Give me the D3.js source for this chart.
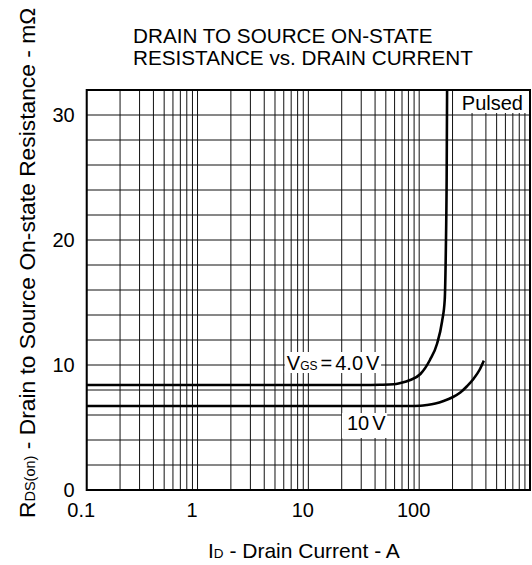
<!DOCTYPE html>
<html>
<head>
<meta charset="utf-8">
<script src="https://cdn.jsdelivr.net/npm/d3@7"></script>
<style>
  html, body { margin: 0; padding: 0; background: #fff; }
  svg { display: block; font-family: "Liberation Sans", Arial, sans-serif; }
</style>
</head>
<body>
<svg id="chart" width="532" height="565"></svg>
<script>
// Drain current (A) and on-resistance (mΩ) for each gate voltage
const currentVgs4 = [0.1, 10, 30, 44.6, 59, 67.6, 83, 102.6, 125, 145, 161, 170, 174, 177, 178.6];
const rdsVgs4     = [8.4, 8.4, 8.4, 8.42, 8.46, 8.56, 8.8, 9.28, 10.4, 11.7, 13.5, 15.2, 19.2, 25, 32];
const currentVgs10 = [0.1, 50, 80, 102.6, 118, 140, 166, 200, 235, 270, 310, 350, 383];
const rdsVgs10     = [6.72, 6.72, 6.72, 6.74, 6.8, 6.92, 7.12, 7.42, 7.8, 8.3, 8.9, 9.6, 10.35];

const xTickLabels = ["0.1", "1", "10", "100"];
const yTickLabels = ["0", "10", "20", "30"];

const svg = d3.select("#chart");
const plotL = 86.7, plotR = 530, plotT = 90, plotB = 490;

const x = d3.scaleLog().domain([0.1, 1000]).range([plotL, plotR]);
const y = d3.scaleLinear().domain([0, 32]).range([plotB, plotT]);

// grid: every 1..9 × decade vertically, every 2 mΩ horizontally
const gridX = [];
[0.1, 1, 10, 100].forEach(d => { for (let k = 1; k <= 9; k++) gridX.push(+(d * k).toPrecision(3)); });
const gridY = d3.range(0, 33, 2);

const grid = svg.append("g");
grid.selectAll("line.gx").data(gridX).join("line")
  .attr("x1", d => x(d)).attr("x2", d => x(d))
  .attr("y1", plotT).attr("y2", plotB)
  .attr("stroke", "#111").attr("stroke-width", 1);
grid.selectAll("line.gy").data(gridY).join("line")
  .attr("x1", plotL).attr("x2", plotR)
  .attr("y1", d => y(d)).attr("y2", d => y(d))
  .attr("stroke", "#111").attr("stroke-width", 1);

// "Pulsed" tag in the top right corner
const pulsed = svg.append("g");
pulsed.append("rect")
  .attr("x", 455.5).attr("y", plotT).attr("width", plotR - 455.5).attr("height", 23)
  .attr("fill", "#fff");
pulsed.append("text")
  .attr("x", 523).attr("y", 110).attr("text-anchor", "end")
  .attr("font-size", 20).text("Pulsed");

// curves
const line = d3.line().x(d => x(d[0])).y(d => y(d[1])).curve(d3.curveMonotoneX);
svg.append("path")
  .datum(currentVgs4.map((c, i) => [c, rdsVgs4[i]]))
  .attr("d", line).attr("fill", "none").attr("stroke", "#000").attr("stroke-width", 2.6);
svg.append("path")
  .datum(currentVgs10.map((c, i) => [c, rdsVgs10[i]]))
  .attr("d", line).attr("fill", "none").attr("stroke", "#000").attr("stroke-width", 2.6);

// curve labels on white patches
function label(g, pad) {
  const b = g.node().getBBox();
  g.insert("rect", "text")
    .attr("x", b.x - pad[3]).attr("y", b.y - pad[0])
    .attr("width", b.width + pad[1] + pad[3]).attr("height", b.height + pad[0] + pad[2])
    .attr("fill", "#fff");
}
const lab4 = svg.append("g");
const t4 = lab4.append("text").attr("x", x(6.4)).attr("y", y(9.6)).attr("font-size", 20);
t4.append("tspan").text("V");
t4.append("tspan").attr("font-size", 12).text("GS");
t4.append("tspan").attr("dx", 3).text("=");
t4.append("tspan").attr("dx", 3).text("4.0");
t4.append("tspan").attr("dx", 3).text("V");
label(lab4, [0, 1, -1, 2]);

const lab10 = svg.append("g");
const t10 = lab10.append("text").attr("x", x(22.3)).attr("y", y(4.8)).attr("font-size", 20);
t10.append("tspan").text("10");
t10.append("tspan").attr("dx", 3).text("V");
label(lab10, [-1, 1, 4, 5]);

// frame
svg.append("rect")
  .attr("x", plotL).attr("y", plotT).attr("width", plotR - plotL).attr("height", plotB - plotT)
  .attr("fill", "none").attr("stroke", "#000").attr("stroke-width", 2);

// axes
const xAxis = d3.axisBottom(x).tickValues(xTickLabels.map(Number)).tickFormat((d, i) => xTickLabels[i]).tickSize(0);
svg.append("g").attr("transform", `translate(-6,${plotB + 10})`).call(xAxis)
  .call(g => g.select(".domain").remove())
  .call(g => g.selectAll("text").attr("font-size", 20).attr("fill", "#000").attr("font-family", "Liberation Sans, Arial, sans-serif"));

const yAxis = d3.axisLeft(y).tickValues(yTickLabels.map(Number)).tickFormat((d, i) => yTickLabels[i]).tickSize(0);
svg.append("g").attr("transform", `translate(${plotL - 9},0)`).call(yAxis)
  .call(g => g.select(".domain").remove())
  .call(g => g.selectAll("text").attr("font-size", 20).attr("fill", "#000").attr("font-family", "Liberation Sans, Arial, sans-serif"));

// titles
const title = svg.append("text").attr("font-size", 20.7);
title.append("tspan").attr("x", 133).attr("y", 43).text("DRAIN TO SOURCE ON-STATE");
title.append("tspan").attr("x", 133).attr("y", 65).text("RESISTANCE vs. DRAIN CURRENT");

const xt = svg.append("text").attr("x", 208).attr("y", 558).attr("font-size", 21);
xt.append("tspan").text("I");
xt.append("tspan").attr("font-size", 13.5).text("D");
xt.append("tspan").text(" - Drain Current - A");

const yt = svg.append("text").attr("transform", "translate(35,518) rotate(-90)").attr("font-size", 22.8);
yt.append("tspan").text("R");
yt.append("tspan").attr("font-size", 14.5).text("DS(on)");
yt.append("tspan").text(" - Drain to Source On-state Resistance - mΩ");
</script>
</body>
</html>
